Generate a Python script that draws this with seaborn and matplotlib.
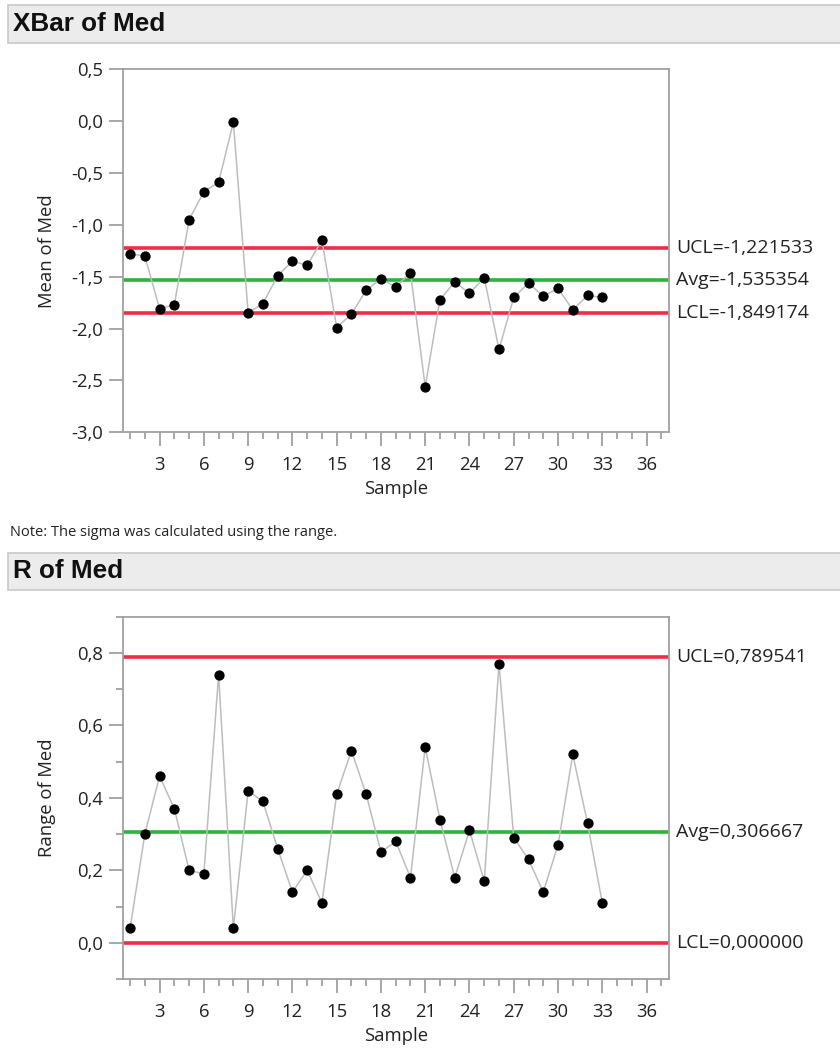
import numpy as np
import pandas as pd
import matplotlib
matplotlib.use("Agg")
import matplotlib.pyplot as plt
import matplotlib.transforms as mtransforms
from matplotlib.ticker import FuncFormatter, MultipleLocator
from matplotlib.patches import Rectangle
import seaborn as sns

# ---- data ----
samples = list(range(1, 34))
xbar_means = [-1.28, -1.30, -1.81, -1.77, -0.95, -0.68, -0.59, -0.01, -1.85, -1.76,
              -1.49, -1.35, -1.39, -1.15, -1.99, -1.86, -1.63, -1.52, -1.60, -1.46,
              -2.56, -1.72, -1.55, -1.66, -1.51, -2.20, -1.70, -1.56, -1.69, -1.61,
              -1.82, -1.68, -1.70]
ranges = [0.04, 0.30, 0.46, 0.37, 0.20, 0.19, 0.74, 0.04, 0.42, 0.39,
          0.26, 0.14, 0.20, 0.11, 0.41, 0.53, 0.41, 0.25, 0.28, 0.18,
          0.54, 0.34, 0.18, 0.31, 0.17, 0.77, 0.29, 0.23, 0.14, 0.27,
          0.52, 0.33, 0.11]
xbar_limits = {"UCL": -1.221533, "Avg": -1.535354, "LCL": -1.849174}
r_limits = {"UCL": 0.789541, "Avg": 0.306667, "LCL": 0.000000}
x_ticks = [3, 6, 9, 12, 15, 18, 21, 24, 27, 30, 33, 36]

sns.set_theme(style="white")
plt.rcParams['font.family'] = ['Open Sans', 'DejaVu Sans']

RED = "#EE2D48"
GREEN = "#2DB43A"
SPINE = "#A0A0A0"
TXT = "#222222"
FS = 13.3

fig = plt.figure(figsize=(8.4, 10.5), dpi=100)

def comma(v, pos=None):
    return f"{v:.1f}".replace(".", ",")

def header(y_top_px, y_bot_px, title):
    y0 = 1 - y_bot_px / 1050
    h = (y_bot_px - y_top_px) / 1050
    fig.patches.append(Rectangle((8 / 840, y0), 1.0, h, transform=fig.transFigure,
                                 facecolor="#ECECEC", edgecolor="#C8C8C8", lw=1.2))
    fig.text(13 / 840, y0 + h / 2, title, fontsize=18.8, fontweight="bold",
             family=["Liberation Sans", "DejaVu Sans"], va="center", ha="left", color="#111111")

def control_panel(ax, values, limits, ylim, major, minor, ylabel):
    df = pd.DataFrame({"Sample": samples, "Value": values})
    sns.lineplot(data=df, x="Sample", y="Value", ax=ax, color="#BDBDBD", lw=1.1, zorder=3)
    sns.scatterplot(data=df, x="Sample", y="Value", ax=ax, color="black", s=55,
                    edgecolor="black", linewidth=0, zorder=4)
    for key, col in (("UCL", RED), ("Avg", GREEN), ("LCL", RED)):
        ax.axhline(limits[key], color=col, lw=2.6, zorder=2)
    trans = mtransforms.blended_transform_factory(ax.transAxes, ax.transData)
    for key in ("UCL", "Avg", "LCL"):
        txt = f"{key}={limits[key]:.6f}".replace(".", ",")
        ax.text(1.013, limits[key], txt, transform=trans, va="center", ha="left",
                fontsize=14, color=TXT)
    ax.set_xlim(0.5, 37.5)
    ax.set_ylim(*ylim)
    ax.set_xticks(x_ticks)
    ax.xaxis.set_minor_locator(MultipleLocator(1))
    ax.yaxis.set_major_locator(MultipleLocator(major))
    if minor:
        ax.yaxis.set_minor_locator(MultipleLocator(minor))
    ax.yaxis.set_major_formatter(FuncFormatter(comma))
    for s in ax.spines.values():
        s.set_color(SPINE)
        s.set_linewidth(1.3)
    ax.tick_params(axis="both", which="major", direction="out", length=10, width=1.3,
                   color=SPINE, labelsize=FS, labelcolor=TXT, pad=4,
                   bottom=True, left=True)
    ax.tick_params(axis="both", which="minor", direction="out", length=5, width=1.3,
                   color=SPINE, bottom=True, left=True)
    ax.tick_params(axis="x", which="major", pad=7)
    ax.set_xlabel("Sample", fontsize=FS, color=TXT)
    ax.xaxis.set_label_coords(0.5, -0.157)
    ax.xaxis.label.set_va("center")
    ax.set_ylabel(ylabel, fontsize=FS, color=TXT)
    ax.yaxis.set_label_coords(-0.139, 0.5)
    ax.yaxis.label.set_va("center")
    ax.grid(False)

header(5, 43, "XBar of Med")
ax1 = fig.add_axes([122.7 / 840, 1 - 432.3 / 1050, 546 / 840, 363 / 1050])
control_panel(ax1, xbar_means, xbar_limits, (-3.0, 0.5), 0.5, None, "Mean of Med")

fig.text(10 / 840, 1 - 532 / 1050, "Note: The sigma was calculated using the range.",
         fontsize=10.5, va="center", ha="left", color=TXT)

header(553, 590, "R of Med")
ax2 = fig.add_axes([122.7 / 840, 1 - 979 / 1050, 546 / 840, 362.3 / 1050])
control_panel(ax2, ranges, r_limits, (-0.1, 0.9), 0.2, 0.1, "Range of Med")

fig.savefig("out.png", dpi=100)
